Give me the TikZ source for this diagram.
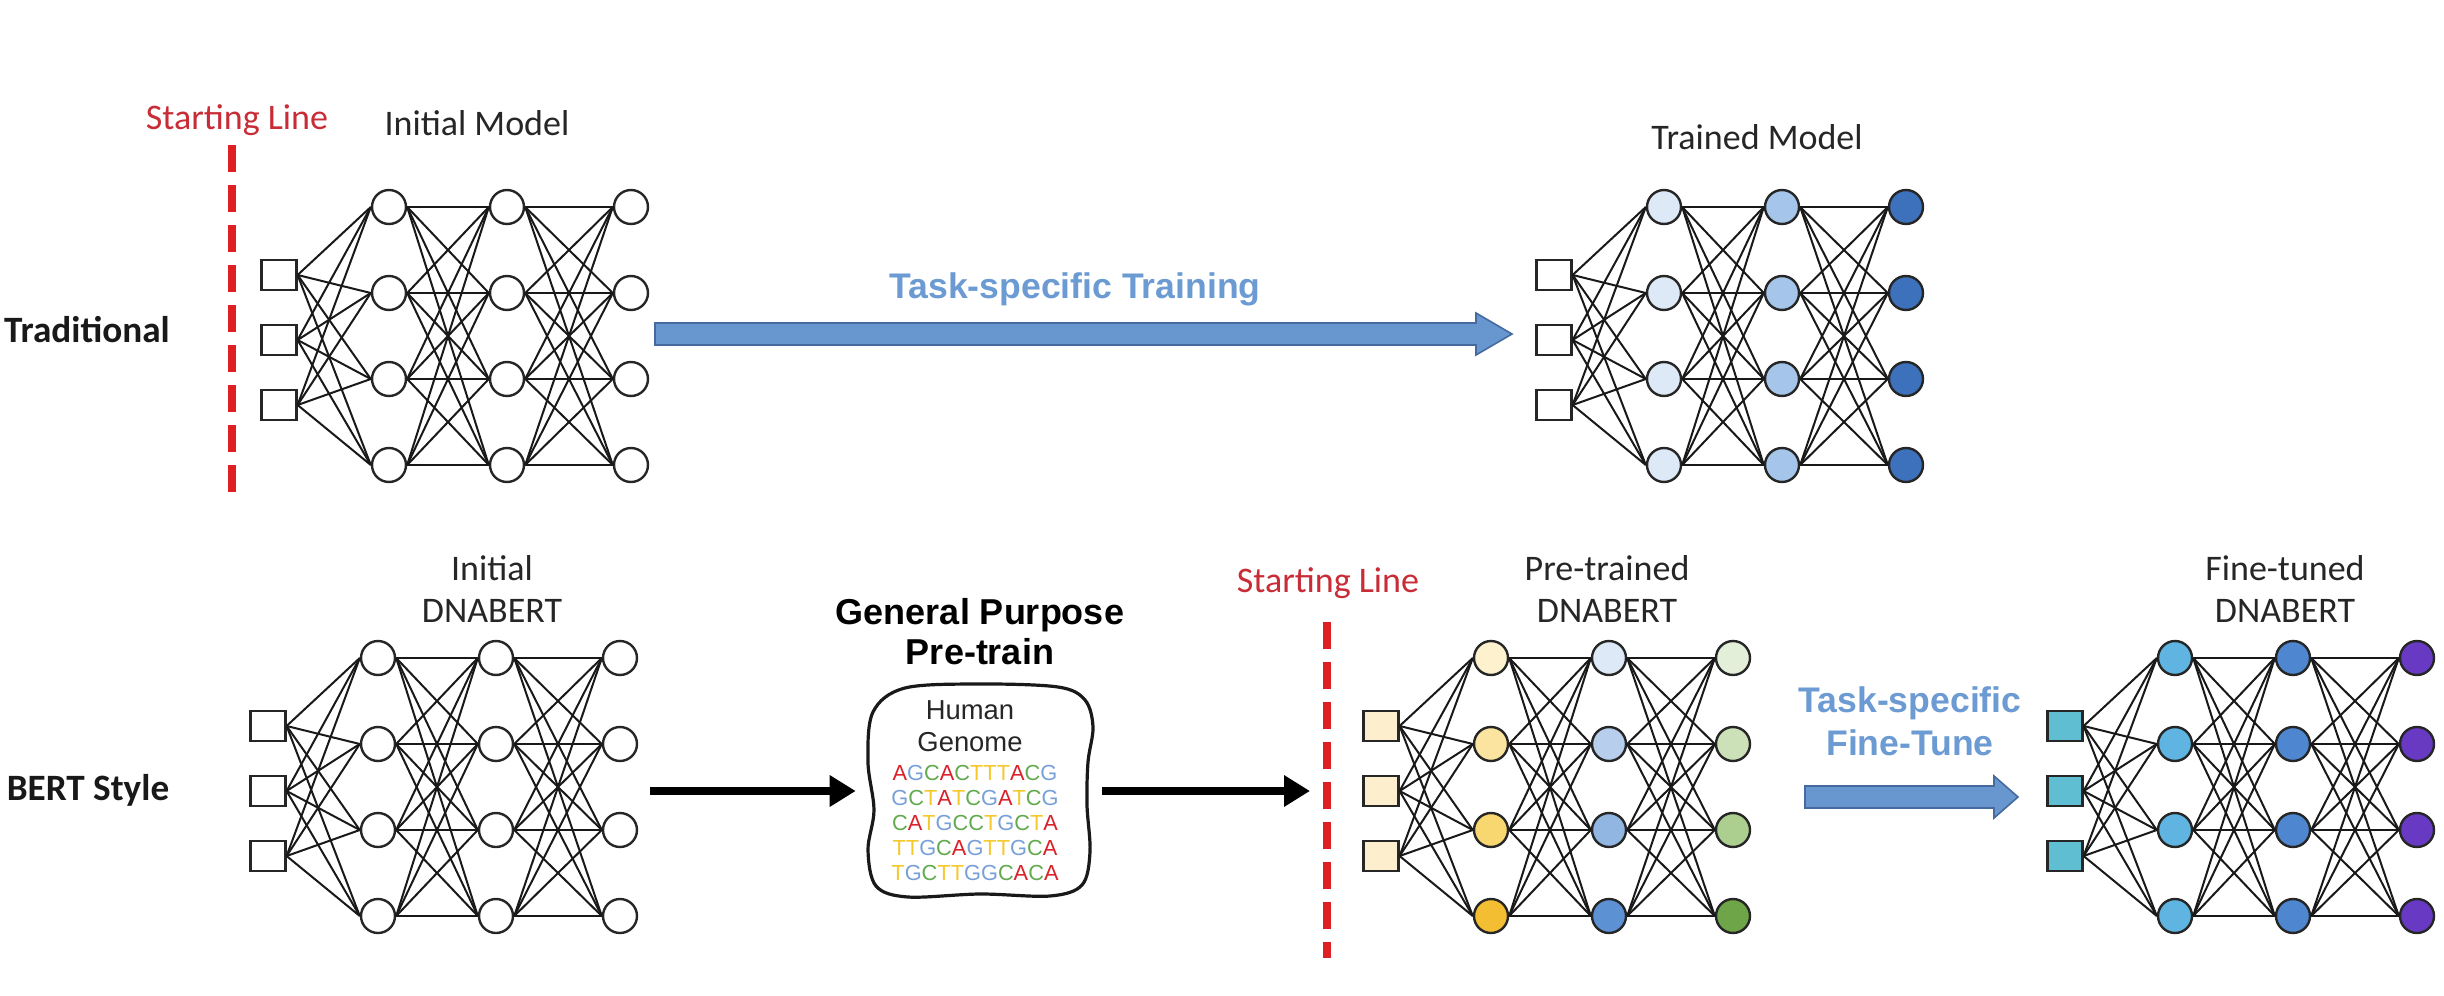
\documentclass[tikz,border=0pt]{standalone}
\usepackage{fontspec}
\setmainfont{Carlito}
\newfontfamily\arialfont{Liberation Sans}
\usetikzlibrary{calc,arrows.meta}

% Farben
\definecolor{startrot}{RGB}{222,32,36}
\definecolor{starttext}{RGB}{200,45,55}
\definecolor{blautext}{RGB}{107,155,210}
\definecolor{blaufill}{RGB}{103,151,206}
\definecolor{blaurand}{RGB}{68,106,160}
\definecolor{tm1}{RGB}{222,233,247}
\definecolor{tm2}{RGB}{165,197,234}
\definecolor{tm3}{RGB}{62,113,187}
\definecolor{pt0}{RGB}{253,239,205}
\definecolor{pt1a}{RGB}{253,241,206}
\definecolor{pt1b}{RGB}{250,228,160}
\definecolor{pt1c}{RGB}{248,214,112}
\definecolor{pt1d}{RGB}{243,190,50}
\definecolor{pt2a}{RGB}{221,233,246}
\definecolor{pt2b}{RGB}{183,207,236}
\definecolor{pt2c}{RGB}{146,182,226}
\definecolor{pt2d}{RGB}{92,145,212}
\definecolor{pt3a}{RGB}{228,239,218}
\definecolor{pt3b}{RGB}{205,225,185}
\definecolor{pt3c}{RGB}{172,207,143}
\definecolor{pt3d}{RGB}{110,165,72}
\definecolor{ft0}{RGB}{95,190,210}
\definecolor{ft1}{RGB}{95,180,225}
\definecolor{ft2}{RGB}{78,135,208}
\definecolor{ft3}{RGB}{104,58,196}
\definecolor{dnaA}{RGB}{218,32,40}
\definecolor{dnaC}{RGB}{98,170,78}
\definecolor{dnaG}{RGB}{120,160,215}
\definecolor{dnaT}{RGB}{245,200,45}

% farbige Basen
\newcommand{\dnareihe}[1]{\dnaschritt#1\relax}
\def\dnaschritt#1{\ifx#1\relax\else\textcolor{dna#1}{#1}\expandafter\dnaschritt\fi}

% ein Netz: Name, x, y oben, Farben Eingang, Schicht 1, 2, 3
\newcommand{\netz}[7]{%
  \foreach \f [count=\r] in {#4}
    \node[eingang, fill=\f] (#1-0-\r) at ({#2}, {#3+3+65*\r}) {};
  \foreach \f [count=\r] in {#5}
    \node[neuron, fill=\f] (#1-1-\r) at ({#2+110}, {#3+86*(\r-1)}) {};
  \foreach \f [count=\r] in {#6}
    \node[neuron, fill=\f] (#1-2-\r) at ({#2+228}, {#3+86*(\r-1)}) {};
  \foreach \f [count=\r] in {#7}
    \node[neuron, fill=\f] (#1-3-\r) at ({#2+352}, {#3+86*(\r-1)}) {};
  \foreach \i in {1,2,3}
    \foreach \j in {1,...,4}
      \draw[kante] (#1-0-\i.east) -- (#1-1-\j.west);
  \foreach \k/\l in {1/2,2/3}
    \foreach \i in {1,...,4}
      \foreach \j in {1,...,4}
        \draw[kante] (#1-\k-\i.east) -- (#1-\l-\j.west);
}

% Blockpfeil von Koordinate #1 nach #2, Spitzenlaenge #3
\newcommand{\blockpfeil}[3]{%
  \draw[blaupfeil] ($(#1)+(0,-11)$) -- ($(#2)+(-#3,-11)$) -- ($(#2)+(-#3,-21)$)
    -- (#2) -- ($(#2)+(-#3,21)$) -- ($(#2)+(-#3,11)$) -- ($(#1)+(0,11)$) -- cycle;
}

\tikzset{
  eingang/.style={rectangle, draw=black!85, line width=0.55pt, minimum width=8.75pt,
    minimum height=7.5pt, inner sep=0pt},
  neuron/.style={circle, draw=black!85, line width=0.6pt, minimum size=8.5pt, inner sep=0pt},
  kante/.style={line width=0.5pt, black!90},
  titel/.style={font=\fontsize{9}{10.5}\selectfont, text=black!85, align=center, inner sep=0pt},
  zeile/.style={font=\fontsize{9.3}{11}\selectfont\bfseries, text=black!90, inner sep=0pt},
  startlabel/.style={font=\fontsize{9}{10.5}\selectfont, text=starttext, inner sep=0pt},
  startlinie/.style={startrot, line width=2pt, dash pattern=on 6.75pt off 3.25pt},
  blaulabel/.style={font=\arialfont\fontsize{8.9}{10.75}\selectfont\bfseries, text=blautext,
    align=center, inner sep=0pt},
  blaupfeil/.style={fill=blaufill, draw=blaurand, line width=0.4pt},
  schwarzpfeil/.style={line width=2pt, -{Triangle[length=6.5pt,width=7.5pt]}},
}

\begin{document}
\begin{tikzpicture}[x={(0.25pt,0)}, y={(0,-0.25pt)}]
  \useasboundingbox (0,0) rectangle (2444,996);

  % Zeilenbeschriftungen
  \node[zeile] (trad) at (87,330) {Traditional};
  \node[zeile] (bert) at (88,790) {BERT Style};

  % Startlinien
  \node[startlabel] (start1) at (237,120) {Starting Line};
  \coordinate (s1o) at (232,145);
  \coordinate (s1u) at (232,497);
  \draw[startlinie] (s1o) -- (s1u);

  \node[startlabel] (start2) at (1328,583) {Starting Line};
  \coordinate (s2o) at (1327,622);
  \coordinate (s2u) at (1327,958);
  \draw[startlinie] (s2o) -- (s2u);

  % obere Reihe
  \node[titel] (initm) at (477,123) {Initial Model};
  \netz{im}{279}{207}{white,white,white}{white,white,white,white}{white,white,white,white}{white,white,white,white}

  \node[titel] (trainm) at (1757,137) {Trained Model};
  \netz{tm}{1554}{207}{white,white,white}{tm1,tm1,tm1,tm1}{tm2,tm2,tm2,tm2}{tm3,tm3,tm3,tm3}

  \node[blaulabel] (tstrain) at (1075,289) {Task-specific Training};
  \coordinate (tsA) at (655,334);
  \coordinate (tsB) at (1512,334);
  \blockpfeil{tsA}{tsB}{36}

  % untere Reihe
  \node[titel] (initd) at (492,589) {Initial\\DNABERT};
  \netz{id}{268}{658}{white,white,white}{white,white,white,white}{white,white,white,white}{white,white,white,white}

  \node[titel] (pred) at (1607,589) {Pre-trained\\DNABERT};
  \netz{pt}{1381}{658}{pt0,pt0,pt0}{pt1a,pt1b,pt1c,pt1d}{pt2a,pt2b,pt2c,pt2d}{pt3a,pt3b,pt3c,pt3d}

  \node[titel] (fined) at (2285,589) {Fine-tuned\\DNABERT};
  \netz{ft}{2065}{658}{ft0,ft0,ft0}{ft1,ft1,ft1,ft1}{ft2,ft2,ft2,ft2}{ft3,ft3,ft3,ft3}

  % Genom
  \node[font=\arialfont\fontsize{9}{10}\selectfont\bfseries, align=center, inner sep=0pt]
    (gp) at (980,632) {General Purpose\\Pre-train};
  \node[minimum width=55.75pt, minimum height=53pt, inner sep=0pt] (genome) at (981,791) {};
  \draw[line width=0.8pt, black!90] plot[smooth cycle, tension=0.55] coordinates {
    (905,688) (980,684) (1058,687) (1085,700) (1093,727) (1088,762) (1087,805)
    (1090,852) (1082,885) (1050,896) (980,894) (908,897) (876,886) (868,850)
    (874,810) (868,762) (873,712)};
  \node[font=\arialfont\fontsize{6.85}{8}\selectfont, align=center, inner sep=0pt, text=black!85]
    (human) at (970,726) {Human\\Genome};
  \node[font=\arialfont\fontsize{5.45}{6.3}\selectfont, align=center, inner sep=0pt]
    (dna) at (975,823) {\dnareihe{AGCACTTTACG}\\\dnareihe{GCTATCGATCG}\\\dnareihe{CATGCCTGCTA}\\\dnareihe{TTGCAGTTGCA}\\\dnareihe{TGCTTGGCACA}};

  \coordinate (pfA) at (650,791);
  \coordinate (pfB) at (1310,791);
  \draw[schwarzpfeil, shorten >=3.25pt] (pfA) -- (genome.west);
  \draw[schwarzpfeil, shorten <=2.25pt] (genome.east) -- (pfB);

  % Fine-Tune Pfeil
  \node[blaulabel] (tsfine) at (1910,721) {Task-specific\\Fine-Tune};
  \coordinate (ftA) at (1805,797);
  \coordinate (ftB) at (2018,797);
  \blockpfeil{ftA}{ftB}{24}
\end{tikzpicture}
\end{document}
